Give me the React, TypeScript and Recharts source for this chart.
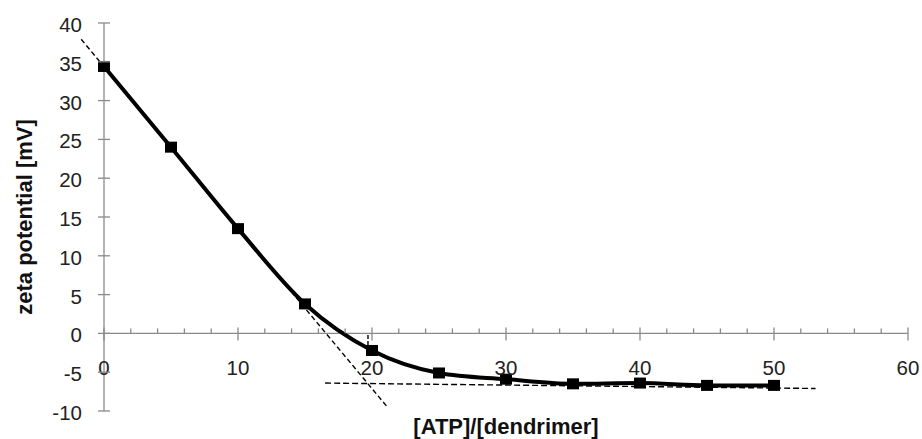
import React from "react";
import {
  LineChart,
  Line,
  XAxis,
  YAxis,
  ReferenceLine,
} from "recharts";

// ── data ─────────────────────────────────────────────────────────────────────

const RATIO = [0, 5, 10, 15, 20, 25, 30, 35, 40, 45, 50];
const ZETA = [34.4, 24.0, 13.5, 3.8, -2.2, -5.1, -5.9, -6.5, -6.4, -6.7, -6.7];

const X_TICKS = [0, 2, 4, 6, 8, 10, 12, 14, 16, 18, 20, 22, 24, 26, 28, 30, 32, 34, 36, 38, 40, 42, 44, 46, 48, 50, 52, 54, 56, 58, 60];
const Y_TICKS = [-10, -5, 0, 5, 10, 15, 20, 25, 30, 35, 40];

// dashed guide lines (endpoints in data units)
const TANGENT_X = [-1.7, 21.1];
const TANGENT_Y = [37.9, -9.4];
const PLATEAU_X = [16.5, 53.1];
const PLATEAU_Y = [-6.4, -7.1];
const MARK_X = [19.7, 19.7];
const MARK_Y = [-0.2, -1.9];

const X_TITLE = "[ATP]/[dendrimer]";
const Y_TITLE = "zeta potential [mV]";

// ── layout ───────────────────────────────────────────────────────────────────

const W = 922;
const H = 439;
const MARGIN = { top: 23, right: 14, bottom: 0, left: 0 };
const Y_AXIS_W = 104;
const X_AXIS_H = 28;
const AXIS_X = MARGIN.left + Y_AXIS_W;
const PLOT_H = H - MARGIN.top - MARGIN.bottom - X_AXIS_H;
const Y_MIN = -10;
const Y_MAX = 40;
const ZERO_Y = MARGIN.top + (PLOT_H * Y_MAX) / (Y_MAX - Y_MIN);

const FONT = "'Liberation Sans', Arial, Helvetica, sans-serif";
const AXIS_COLOR = "#8a8a8a";
const TEXT_COLOR = "#222";

const chartData = RATIO.map((r, i) => ({ ratio: r, zeta: ZETA[i] }));

function seg(xs: number[], ys: number[]) {
  return [
    { x: xs[0], y: ys[0] },
    { x: xs[1], y: ys[1] },
  ];
}

// ── ticks ────────────────────────────────────────────────────────────────────

function XTick(props: any) {
  const { x, payload } = props;
  const v = payload.value as number;
  const major = v % 10 === 0;
  if (!major) {
    return <line x1={x} x2={x} y1={ZERO_Y - 5} y2={ZERO_Y} stroke={AXIS_COLOR} strokeWidth={1.3} />;
  }
  return (
    <g>
      <line x1={x} x2={x} y1={ZERO_Y - 6} y2={ZERO_Y + 7} stroke={AXIS_COLOR} strokeWidth={1.3} />
      <text x={x} y={ZERO_Y + 42} textAnchor="middle" fontSize={20.5} fontFamily={FONT} fill={TEXT_COLOR}>
        {v}
      </text>
    </g>
  );
}

function YTick(props: any) {
  const { y, payload } = props;
  return (
    <g>
      <line x1={AXIS_X - 6} x2={AXIS_X + 6} y1={y} y2={y} stroke={AXIS_COLOR} strokeWidth={1.3} />
      <text x={AXIS_X - 22} y={y + 9} textAnchor="end" fontSize={20.5} fontFamily={FONT} fill={TEXT_COLOR}>
        {payload.value}
      </text>
    </g>
  );
}

function SquareDot(props: any) {
  const { cx, cy } = props;
  if (cx == null || cy == null) return null;
  return <rect x={cx - 6} y={cy - 5.5} width={12} height={11} fill="#000" />;
}

function YTitle(props: any) {
  const vb = props.viewBox;
  const cx = 24;
  const cy = vb.y + vb.height / 2;
  return (
    <text
      x={cx}
      y={cy}
      transform={`rotate(-90, ${cx}, ${cy})`}
      textAnchor="middle"
      dominantBaseline="central"
      fontSize={22}
      fontWeight="bold"
      fontFamily={FONT}
      fill="#111"
    >
      {Y_TITLE}
    </text>
  );
}

function XTitle(props: any) {
  const vb = props.viewBox;
  const cx = vb.x + vb.width / 2;
  return (
    <text x={cx} y={H - 5} textAnchor="middle" fontSize={22} fontWeight="bold" fontFamily={FONT} fill="#111">
      {X_TITLE}
    </text>
  );
}

// ── main ─────────────────────────────────────────────────────────────────────

export default function App() {
  return (
    <div style={{ position: "absolute", left: 0, top: 0, width: W, height: H, background: "#fff" }}>
      <LineChart width={W} height={H} data={chartData} margin={MARGIN}>
        <XAxis
          dataKey="ratio"
          type="number"
          domain={[0, 60]}
          ticks={X_TICKS}
          interval={0}
          axisLine={false}
          tickLine={false}
          tick={<XTick />}
          height={X_AXIS_H}
          label={{ content: <XTitle /> }}
        />
        <YAxis
          type="number"
          domain={[Y_MIN, Y_MAX]}
          ticks={Y_TICKS}
          interval={0}
          width={Y_AXIS_W}
          axisLine={{ stroke: AXIS_COLOR, strokeWidth: 1.3 }}
          tickLine={false}
          tick={<YTick />}
          label={{ content: <YTitle /> }}
        />

        {/* x axis drawn through y = 0 */}
        <ReferenceLine y={0} stroke={AXIS_COLOR} strokeWidth={1.3} />

        {/* dashed guides */}
        <ReferenceLine
          segment={seg(TANGENT_X, TANGENT_Y)}
          stroke="#000"
          strokeWidth={1.4}
          strokeDasharray="5 3"
          ifOverflow="visible"
        />
        <ReferenceLine
          segment={seg(PLATEAU_X, PLATEAU_Y)}
          stroke="#000"
          strokeWidth={1.4}
          strokeDasharray="6 3"
          ifOverflow="visible"
        />
        <ReferenceLine
          segment={seg(MARK_X, MARK_Y)}
          stroke="#000"
          strokeWidth={1.4}
          strokeDasharray="4 2"
          ifOverflow="visible"
        />

        <Line
          type="monotone"
          dataKey="zeta"
          stroke="#000"
          strokeWidth={4}
          dot={<SquareDot />}
          activeDot={false}
          isAnimationActive={false}
        />
      </LineChart>
    </div>
  );
}
